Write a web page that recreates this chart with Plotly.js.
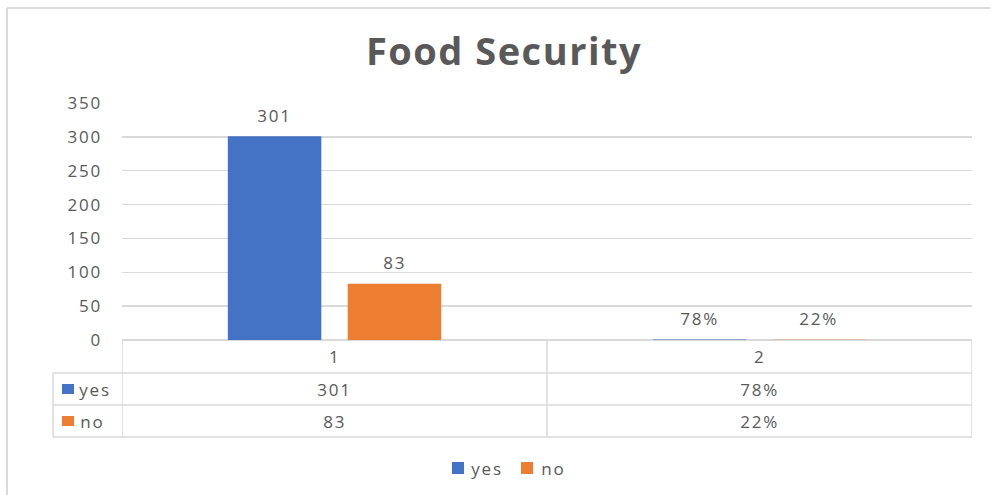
<!DOCTYPE html>
<html>
<head>
<meta charset="utf-8">
<script src="https://cdn.plot.ly/plotly-3.0.1.min.js"></script>
<style>
html,body{margin:0;padding:0;background:#fff;}
#chart{width:990px;height:495px;}
#chart text{letter-spacing:1.8px;}
#chart .gtitle{letter-spacing:1.5px;}
</style>
</head>
<body>
<div id="chart"></div>
<script>
// ---- data ----
var categories = ['1', '2'];
var seriesNames = ['yes', 'no'];
var yesValues = [301, 0.78];
var noValues = [83, 0.22];
var yesLabels = ['301', '78%'];
var noLabels = ['83', '22%'];
var yTicks = [0, 50, 100, 150, 200, 250, 300, 350];
var colors = ['#4472C4', '#ED7D31'];

// ---- layout constants ----
var W = 990, H = 495;
var M = {l: 122, r: 18, t: 103, b: 155};
var plotH = H - M.t - M.b;
var plotW = W - M.l - M.r;
function py(p) { return (H - M.b - p) / plotH; }   // pixel y -> paper y
function px(p) { return (p - M.l) / plotW; }       // pixel x -> paper x

var bargap = 0.436, bargroupgap = 0.22;
var slotHalf = (1 - bargap) / 4;                   // bar centre offset from category centre

var grey = '#595959', lineC = '#d9d9d9';
var font = 'Open Sans, Noto Sans, sans-serif';
var fs = 17;

var allValues = [yesValues, noValues];
var allLabels = [yesLabels, noLabels];

var traces = seriesNames.map(function (n, i) {
  return {
    type: 'bar', name: n, x: categories, y: allValues[i],
    marker: {color: colors[i]}, hoverinfo: 'none', showlegend: false
  };
});

var annotations = [];
// bar data labels
allLabels.forEach(function (labs, s) {
  labs.forEach(function (t, c) {
    annotations.push({
      xref: 'x', yref: 'y', x: c + (s === 0 ? -slotHalf : slotHalf), y: allValues[s][c],
      text: t, showarrow: false, yanchor: 'middle', yshift: 21,
      font: {family: font, size: fs, color: grey}
    });
  });
});

// table rows (pixel positions)
var rowTop = [340, 373, 405, 437];
var tableLeft = 53;
function rowMid(r) { return py((rowTop[r] + rowTop[r + 1]) / 2); }

categories.forEach(function (c, i) {
  [c, yesLabels[i], noLabels[i]].forEach(function (t, r) {
    annotations.push({xref: 'x', yref: 'paper', x: i, y: rowMid(r), text: t, showarrow: false,
      yanchor: 'middle', font: {family: font, size: fs, color: grey}});
  });
});

var shapes = [];
// series keys in table
seriesNames.forEach(function (n, s) {
  var mid = (rowTop[s + 1] + rowTop[s + 2]) / 2;
  shapes.push({type: 'rect', xref: 'paper', yref: 'paper', x0: px(62), x1: px(74),
    y0: py(mid + 5), y1: py(mid - 5), fillcolor: colors[s], line: {width: 0}});
  annotations.push({xref: 'paper', yref: 'paper', x: px(80), y: py(mid), text: n, showarrow: false,
    xanchor: 'left', yanchor: 'middle', font: {family: font, size: fs, color: grey}});
});

// bottom legend (drawn manually)
var legendItems = [{x: 452, tx: 472}, {x: 521, tx: 541}];
seriesNames.forEach(function (n, s) {
  shapes.push({type: 'rect', xref: 'paper', yref: 'paper', x0: px(legendItems[s].x), x1: px(legendItems[s].x + 12),
    y0: py(474), y1: py(462), fillcolor: colors[s], line: {width: 0}});
  annotations.push({xref: 'paper', yref: 'paper', x: px(legendItems[s].tx), y: py(468), text: n, showarrow: false,
    xanchor: 'left', yanchor: 'middle', font: {family: font, size: fs, color: grey}});
});

// table grid lines
[373, 405, 437].forEach(function (p) {
  shapes.push({type: 'line', xref: 'paper', yref: 'paper', x0: px(tableLeft), x1: 1, y0: py(p), y1: py(p),
    line: {color: lineC, width: 1.5}});
});
[-0.5, 0.5, 1.5].forEach(function (xv) {
  shapes.push({type: 'line', xref: 'x', yref: 'paper', x0: xv, x1: xv, y0: 0, y1: py(437),
    line: {color: lineC, width: 1.5}});
});
shapes.push({type: 'line', xref: 'paper', yref: 'paper', x0: px(tableLeft), x1: px(tableLeft),
  y0: py(373), y1: py(437), line: {color: lineC, width: 1.5}});
// outer chart border (top and left)
shapes.push({type: 'line', xref: 'paper', yref: 'paper', x0: px(7), x1: px(990), y0: py(8), y1: py(8),
  line: {color: lineC, width: 2}});
shapes.push({type: 'line', xref: 'paper', yref: 'paper', x0: px(7), x1: px(7), y0: py(8), y1: py(495),
  line: {color: lineC, width: 2}});

var layout = {
  width: W, height: H,
  margin: M,
  paper_bgcolor: '#fff', plot_bgcolor: '#fff',
  title: {text: '<b>Food Security</b>', x: 504 / W, xanchor: 'center', y: 1 - 52 / H, yanchor: 'middle',
    font: {family: font, size: 38, color: grey}},
  barmode: 'group', bargap: bargap, bargroupgap: bargroupgap,
  xaxis: {type: 'category', range: [-0.5, 1.5], showticklabels: false, showgrid: false,
    zeroline: false, showline: false, ticks: '', fixedrange: true},
  yaxis: {range: [0, 350], tickvals: yTicks, ticktext: yTicks.map(String),
    showgrid: true, gridcolor: lineC, gridwidth: 1.5, zeroline: true, zerolinecolor: lineC, zerolinewidth: 1.5,
    showline: false, ticks: '', ticklabelstandoff: 19,
    tickfont: {family: font, size: fs, color: grey}, fixedrange: true},
  showlegend: false,
  annotations: annotations,
  shapes: shapes
};

Plotly.newPlot('chart', traces, layout, {displayModeBar: false, staticPlot: true});
</script>
</body>
</html>
